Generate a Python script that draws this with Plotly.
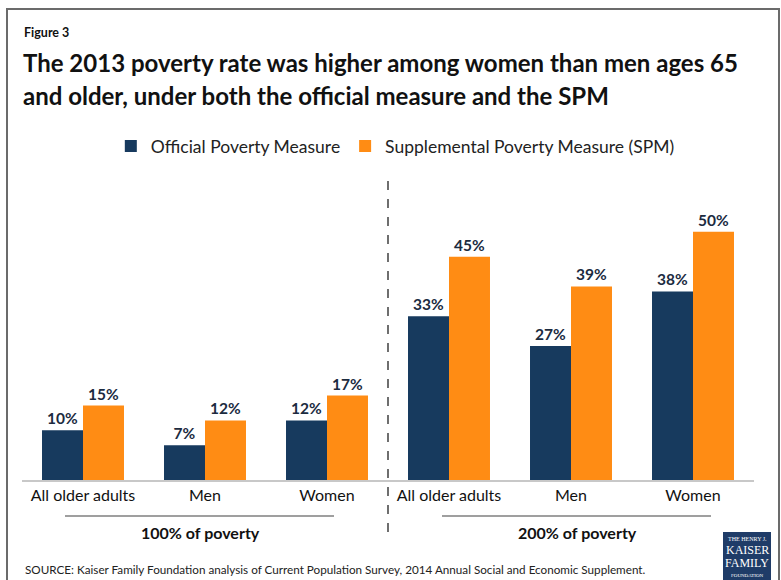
import plotly.graph_objects as go

# Poverty rates (%) for adults 65+, 2013
categories = ["All older adults", "Men", "Women", "All older adults", "Men", "Women"]
official = [10, 7, 12, 33, 27, 38]
spm = [15, 12, 17, 45, 39, 50]
group_labels = ["100% of poverty", "200% of poverty"]
series_names = ["Official Poverty Measure", "Supplemental Poverty Measure (SPM)"]

NAVY = "#173A5E"
ORANGE = "#FF8C14"
LABEL = "#1C2B3F"
FONT = "Lato"

x = list(range(len(categories)))

fig = go.Figure()
for name, vals, col in [(series_names[0], official, NAVY), (series_names[1], spm, ORANGE)]:
    fig.add_trace(go.Bar(
        x=x, y=vals, name=name, marker_color=col, marker_line_width=0,
        texttemplate="%{y}%", textposition="outside", cliponaxis=False,
        textfont=dict(family=FONT, size=15.5, color=LABEL, weight="bold"),
    ))

# plot area: x 22..754 px, y 207..480 px
L, R, T, B = 22, 27, 207, 100
W, H = 781, 580
pw, ph = W - L - R, H - T - B


def px(xp):
    return (xp - L) / pw


def py(yp):
    return (H - B - yp) / ph


shapes = [
    # outer frame
    dict(type="rect", xref="paper", yref="paper", x0=px(7), x1=px(779), y0=py(584), y1=py(9),
         line=dict(color="#6b6b6b", width=2), layer="below"),
    # divider between the two poverty thresholds
    dict(type="line", xref="paper", yref="paper", x0=0.5, x1=0.5, y0=py(532), y1=py(180),
         line=dict(color="#222", width=1.3, dash="dash")),
    # group underlines
    dict(type="line", xref="paper", yref="paper", x0=px(65), x1=px(334), y0=py(516), y1=py(516),
         line=dict(color="#7f7f7f", width=1.5)),
    dict(type="line", xref="paper", yref="paper", x0=px(442), x1=px(711), y0=py(516), y1=py(516),
         line=dict(color="#7f7f7f", width=1.5)),
    # foundation logo block
    dict(type="rect", xref="paper", yref="paper", x0=px(723), x1=px(771), y0=py(582), y1=py(532),
         fillcolor="#1F3C68", line=dict(width=0)),
]


def note(text, xp, yp, size, anchor="left", color="#111", family=FONT):
    return dict(text=text, xref="paper", yref="paper", x=px(xp), y=py(yp),
                xanchor=anchor, yanchor="middle", showarrow=False,
                font=dict(family=family, size=size, color=color))


annotations = [
    note("<b>Figure 3</b>", 22, 32, 12.5),
    note("<b>The 2013 poverty rate was higher among women than men ages 65</b>", 21, 62, 24),
    note("<b>and older, under both the official measure and the SPM</b>", 21, 96, 24),
    note("<b>%s</b>" % group_labels[0], 200, 532, 16, "center"),
    note("<b>%s</b>" % group_labels[1], 577, 532, 16, "center"),
    note("SOURCE: Kaiser Family Foundation analysis of Current Population Survey, "
         "2014 Annual Social and Economic Supplement.", 23, 569, 11.7, color="#222"),
    note("THE HENRY J.", 747, 539, 6, "center", "white", "Liberation Serif"),
    note("KAISER", 747, 550, 12, "center", "white", "Liberation Serif"),
    note("FAMILY", 747, 563, 12, "center", "white", "Liberation Serif"),
    note("FOUNDATION", 747, 575, 5, "center", "white", "Liberation Serif"),
]

fig.update_layout(
    width=W, height=H,
    margin=dict(l=L, r=R, t=T, b=B),
    paper_bgcolor="white", plot_bgcolor="white",
    barmode="group", bargap=0.328, bargroupgap=0,
    font=dict(family=FONT, color="#222"),
    showlegend=True,
    legend=dict(orientation="h", x=0.51, y=py(146), xanchor="center", yanchor="middle",
                font=dict(family=FONT, size=17.5, color="#222"), itemwidth=30,
                traceorder="normal"),
    xaxis=dict(tickmode="array", tickvals=x, ticktext=categories, range=[-0.5, 5.5],
               showline=True, linecolor="#c8c8c8", linewidth=1.5, ticks="",
               showgrid=False, zeroline=False, fixedrange=True,
               tickfont=dict(family=FONT, size=16, color="#111")),
    yaxis=dict(range=[0, 55], visible=False, showgrid=False, zeroline=False),
    shapes=shapes,
    annotations=annotations,
)

fig.write_html("out.html")
